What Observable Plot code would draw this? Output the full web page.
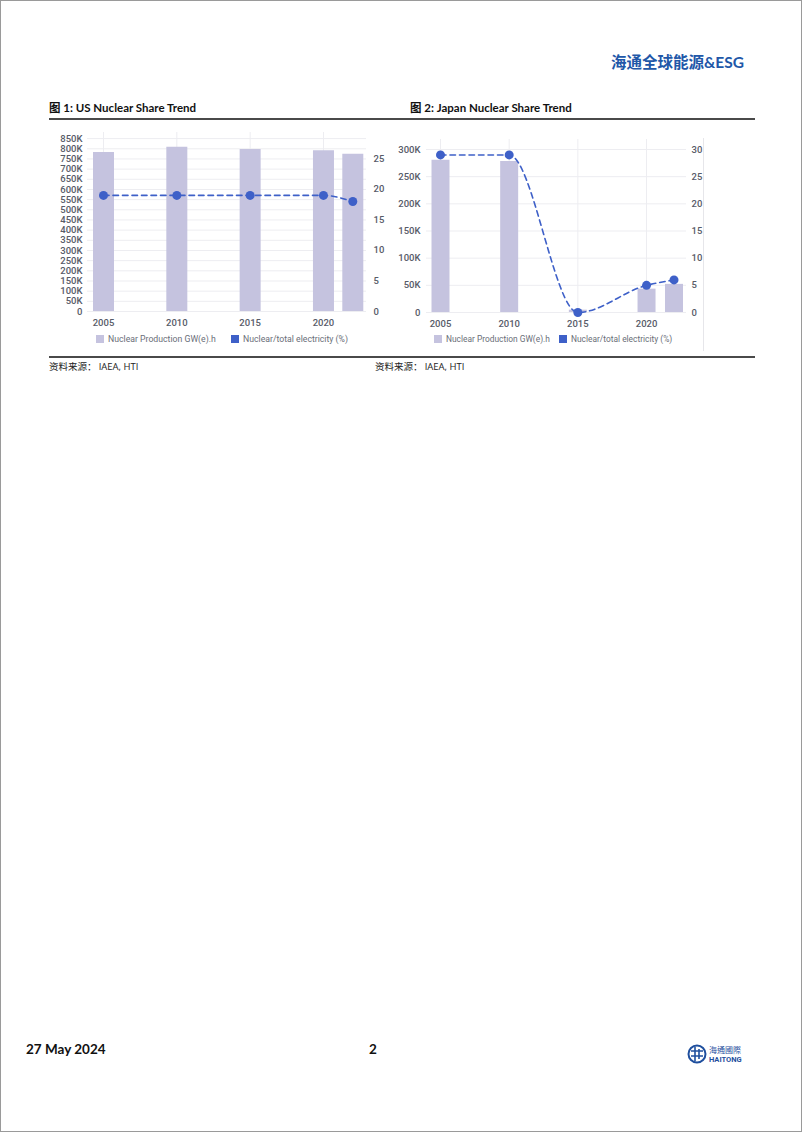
<!DOCTYPE html>
<html>
<head>
<meta charset="utf-8">
<script src="https://cdn.jsdelivr.net/npm/d3@7"></script>
<script src="https://cdn.jsdelivr.net/npm/@observablehq/plot@0.6"></script>
<style>
  html, body { margin: 0; padding: 0; background: #fff; }
  #page { position: relative; width: 802px; height: 1132px; box-sizing: border-box; border: 1px solid #9a9a9a; overflow: hidden; font-family: Lato, "Noto Sans CJK SC", sans-serif; }
  .abs { position: absolute; white-space: nowrap; }
  .hdr { color: #2157a8; font-weight: 700; font-size: 15.5px; font-family: Lato, "Noto Sans CJK SC", sans-serif; }
  .ftitle { font-weight: 700; font-size: 11.5px; color: #111; font-family: Lato, "Noto Sans CJK SC", sans-serif; }
  .hline { position: absolute; height: 2px; background: #4a4a4a; }
  .src { font-size: 9.5px; color: #222; font-family: "Noto Sans CJK SC", sans-serif; }
  .src .en { font-family: "Open Sans", Lato, sans-serif; }
  .legend { font-family: Roboto, sans-serif; font-size: 8.7px; color: #6a6e78; display: flex; align-items: center; }
  .legend.jp { font-size: 8.4px; }
  .sw { display: inline-block; width: 8px; height: 8px; margin-right: 4px; }
  .plotbox { position: absolute; }
  .foot { font-weight: 700; font-size: 13.5px; color: #111; font-family: Lato, sans-serif; }
</style>
</head>
<body>
<div id="page">
  <div class="abs hdr" style="left:610px; top:49px;">海通全球能源&amp;ESG</div>

  <div class="abs ftitle" style="left:48px; top:98px;">图 1: US Nuclear Share Trend</div>
  <div class="abs ftitle" style="left:409px; top:98px;">图 2: Japan Nuclear Share Trend</div>
  <div class="hline" style="left:48px; top:117px; width:706px;"></div>

  <div id="us" class="plotbox" style="left:40px; top:125px;"></div>
  <div id="jp" class="plotbox" style="left:380px; top:125px;"></div>
  <div class="abs" style="left:702px; top:137px; width:1px; height:213px; background:#e6e6ea;"></div>

  <div id="legUS1" class="abs legend" style="left:95px; top:333px;"></div>
  <div id="legUS2" class="abs legend" style="left:230px; top:333px;"></div>
  <div id="legJP1" class="abs legend jp" style="left:433px; top:333px;"></div>
  <div id="legJP2" class="abs legend jp" style="left:558px; top:333px;"></div>

  <div class="hline" style="left:48px; top:355px; width:706px;"></div>
  <div class="abs src" style="left:48px; top:358px;">资料来源： <span class="en">IAEA, HTI</span></div>
  <div class="abs src" style="left:374px; top:358px;">资料来源： <span class="en">IAEA, HTI</span></div>

  <div class="abs foot" style="left:25px; top:1040px;">27 May 2024</div>
  <div class="abs foot" style="left:368px; top:1040px;">2</div>
  <div class="abs" style="left:686px; top:1042px;">
    <svg width="62" height="22" viewBox="0 0 62 22">
      <circle cx="10" cy="11" r="8.5" fill="none" stroke="#1f4f9e" stroke-width="2"/>
      <path d="M4 8 H16 M4 13 H16 M8 4 V18 M12 6 V16" stroke="#1f4f9e" stroke-width="1.6" fill="none"/>
      <text x="22" y="10" font-size="8" font-family="Noto Sans CJK TC" fill="#1f4f9e">海通國際</text>
      <text x="22" y="19" font-size="7.5" font-weight="700" font-family="Roboto" fill="#1f4f9e">HAITONG</text>
    </svg>
  </div>
</div>

<script>
// ---------- Data ----------
const years = [2005, 2010, 2015, 2020, 2022];
const axisYears = [2005, 2010, 2015, 2020];

const usProduction = [782000, 807000, 797000, 790000, 773000];   // GW(e).h
const usShare = [19, 19, 19, 19, 18];                              // %
const jpProduction = [280000, 278000, 4300, 43000, 51800];        // GW(e).h
const jpShare = [29, 29, 0, 5, 6];                                  // %

const usLeftTicks = d3.range(0, 850001, 50000);
const usRightTicks = [0, 5, 10, 15, 20, 25];
const jpLeftTicks = [0, 50000, 100000, 150000, 200000, 250000, 300000];
const jpRightTicks = [0, 5, 10, 15, 20, 25, 30];

const legendLabels = ["Nuclear Production GW(e).h", "Nuclear/total electricity (%)"];

const barColor = "#c5c3df";
const lineColor = "#3e60c8";
const gridColor = "#ededf1";
const tickColor = "#575b68";

function kfmt(d) { return d === 0 ? "0" : (d / 1000) + "K"; }

function makeChart(opts) {
  const rows = years.map((y, i) => ({year: y, prod: opts.prod[i], pct: opts.share[i]}));
  const k = opts.k;
  return Plot.plot({
    width: opts.width,
    height: opts.height,
    marginLeft: opts.marginLeft,
    marginRight: opts.marginRight,
    marginTop: opts.marginTop,
    marginBottom: opts.marginBottom,
    style: {fontFamily: "Roboto, sans-serif", fontSize: "9.5px", fontWeight: 500, color: tickColor, background: "transparent", overflow: "visible"},
    x: {domain: [2005, 2022], range: opts.xRange, axis: null, label: null},
    y: {domain: [0, opts.yMax], axis: null, label: null},
    marks: [
      Plot.gridY(opts.leftTicks, {stroke: gridColor, strokeOpacity: 1}),
      Plot.ruleX(axisYears, {x: d => d, stroke: gridColor, strokeOpacity: 1}),
      Plot.axisY(opts.leftTicks, {anchor: "left", label: null, tickSize: 0, tickPadding: opts.leftPad, tickFormat: kfmt}),
      Plot.axisY(opts.rightTicks.map(t => t * k), {anchor: "right", label: null, tickSize: 0, tickPadding: opts.rightPad, tickFormat: d => String(Math.round(d / k)), textAnchor: "start"}),
      Plot.axisX(axisYears, {anchor: "bottom", label: null, tickSize: 0, tickPadding: 8, tickFormat: d => String(d)}),
      Plot.ruleX(rows, {x: "year", y1: 0, y2: "prod", stroke: barColor, strokeWidth: opts.barWidth}),
      Plot.line(rows, {x: "year", y: d => d.pct * k, curve: "monotone-x", stroke: lineColor, strokeWidth: 1.6, strokeDasharray: "5.5,4"}),
      Plot.dot(rows, {x: "year", y: d => d.pct * k, r: 4.5, fill: lineColor, stroke: "none"})
    ]
  });
}

const usYMax = 880000;
const usK = 850000 / 28.3;
document.getElementById("us").appendChild(makeChart({
  prod: usProduction, share: usShare, k: usK,
  width: 370, height: 210, marginLeft: 46, marginRight: 45, marginTop: 6, marginBottom: 25,
  xRange: [62, 311.3], yMax: usYMax,
  leftTicks: usLeftTicks, rightTicks: usRightTicks, leftPad: 5, rightPad: 7, barWidth: 21
}));

const jpK = 10000;
document.getElementById("jp").appendChild(makeChart({
  prod: jpProduction, share: jpShare, k: jpK,
  width: 330, height: 210, marginLeft: 45, marginRight: 25, marginTop: 13, marginBottom: 24,
  xRange: [59, 292.5], yMax: 318400,
  leftTicks: jpLeftTicks, rightTicks: jpRightTicks, leftPad: 6, rightPad: 5, barWidth: 18
}));

function legendItem(id, i) {
  const colors = [barColor, lineColor];
  document.getElementById(id).innerHTML =
    `<span class="sw" style="background:${colors[i]}"></span>${legendLabels[i]}`;
}
legendItem("legUS1", 0); legendItem("legUS2", 1);
legendItem("legJP1", 0); legendItem("legJP2", 1);
</script>
</body>
</html>
